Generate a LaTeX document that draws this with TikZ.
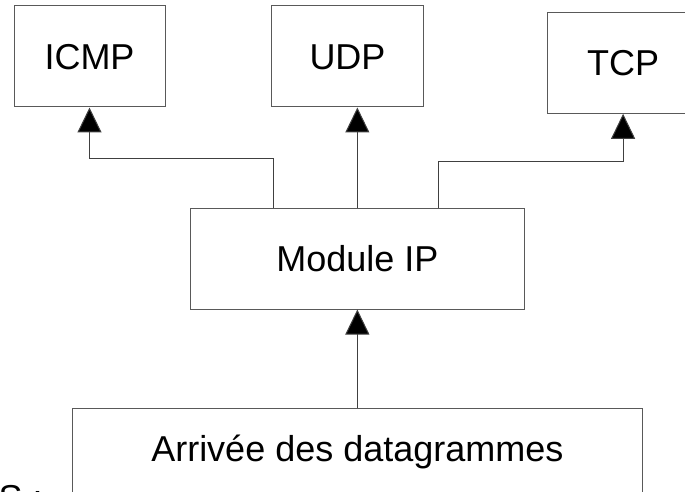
\documentclass[tikz,border=0pt]{standalone}
\usepackage{fontspec}
\setmainfont{Liberation Sans}
\usetikzlibrary{arrows.meta}

\tikzset{
  box/.style={draw=black!65, line width=1pt, fill=none, inner sep=0pt,
    font=\fontsize{36}{43}\selectfont, text height=25.5pt, text depth=0pt},
  flow/.style={draw=black!75, line width=1pt,
    -{Triangle[width=24pt,length=25pt,fill=black]}},
  label/.style={inner sep=0pt, font=\fontsize{36}{43}\selectfont}
}

\begin{document}
\begin{tikzpicture}[x=1pt, y=-1pt]
  \useasboundingbox (0,0) rectangle (685,492);

  % upper layer protocols
  \node[box, minimum width=151pt, minimum height=101pt] (icmp) at (89.5,56.5) {ICMP};
  \node[box, minimum width=151.6pt, minimum height=101pt] (udp) at (347.5,56.5) {UDP};
  \node[box, minimum width=151.6pt, minimum height=100.6pt] (tcp) at (623.1,63) {TCP};

  % IP layer
  \node[box, minimum width=333.3pt, minimum height=100.3pt] (ip) at (357.35,258.85) {Module IP};

  % incoming datagrams
  \node[box, minimum width=569.3pt, minimum height=100pt, text depth=20.5pt] (in) at (357.35,458.5) {Arrivée des datagrammes};

  \node[label, anchor=base west] (s) at (-1.5,510) {S :};

  % demultiplexing connectors
  \draw[flow] ([xshift=-84pt]ip.north) -- ++(0,-50) -| (icmp.south);
  \draw[flow] (ip.north) -- (ip.north |- udp.south);
  \draw[flow] ([xshift=81.35pt]ip.north) -- ++(0,-47) -| (tcp.south);
  \draw[flow] (in.north) -- (ip.south);
\end{tikzpicture}
\end{document}
